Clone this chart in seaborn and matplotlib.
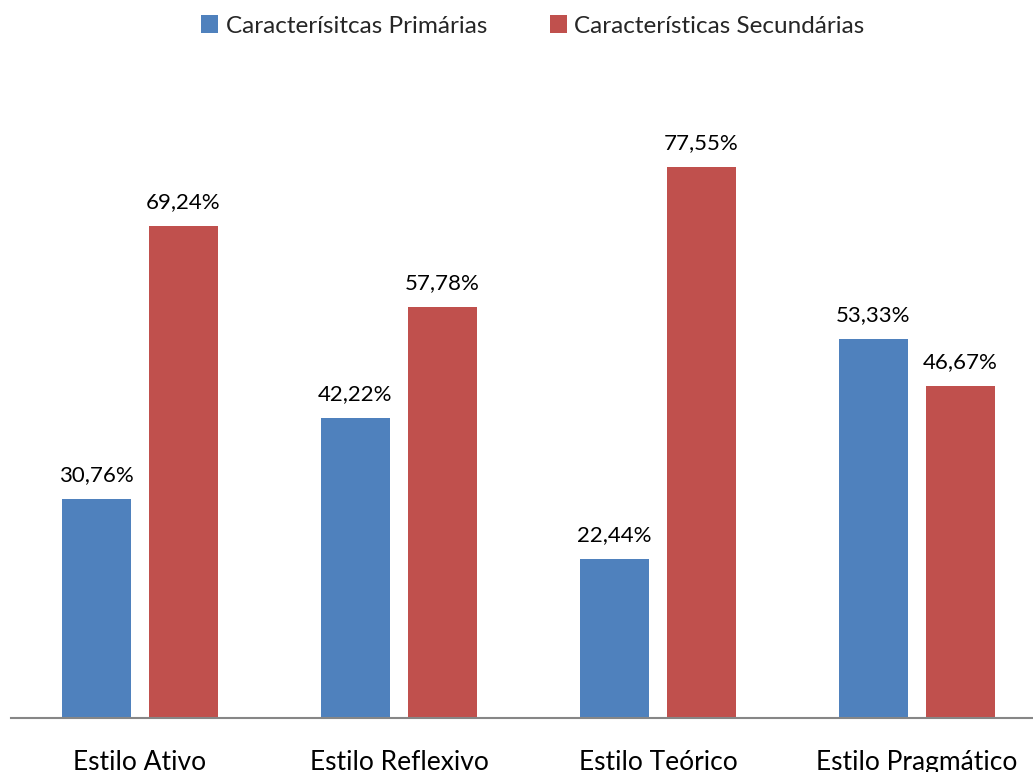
import matplotlib
matplotlib.use("Agg")
import matplotlib.pyplot as plt
import seaborn as sns
import pandas as pd
from matplotlib.patches import Patch

categories = ["Estilo Ativo", "Estilo Reflexivo", "Estilo Teórico", "Estilo Pragmático"]
series_names = ["Caracterísitcas Primárias", "Características Secundárias"]
primarias = [30.76, 42.22, 22.44, 53.33]
secundarias = [69.24, 57.78, 77.55, 46.67]
colors = ["#4F81BD", "#C0504D"]

df = pd.DataFrame({
    "cat": categories * 2,
    "serie": [series_names[0]] * 4 + [series_names[1]] * 4,
    "val": primarias + secundarias,
})

sns.set_theme(style="white")
plt.rcParams["font.family"] = ["Lato", "DejaVu Sans"]

fig = plt.figure(figsize=(10.33, 7.72), dpi=100)
ax = fig.add_axes([10.5 / 1033, 54 / 772, 1036 / 1033, 640.8 / 772])

sns.barplot(data=df, x="cat", y="val", hue="serie", order=categories,
            hue_order=series_names, palette=colors, width=0.672, gap=0.207,
            saturation=1, ax=ax, legend=False, errorbar=None, linewidth=0)

ax.set_xlim(-0.5, 3.5)
ax.set_ylim(0, 90.19)
for cont in ax.containers:
    labels = [f"{v:.2f}".replace(".", ",") + "%" for v in cont.datavalues]
    ax.bar_label(cont, labels=labels, padding=10, fontsize=16, color="#000000")

for s in ["top", "left", "right"]:
    ax.spines[s].set_visible(False)
ax.spines["bottom"].set_color("#868686")
ax.spines["bottom"].set_linewidth(1.5)
ax.set_yticks([])
ax.set_xlabel("")
ax.set_ylabel("")
ax.tick_params(axis="x", length=0, pad=23, labelsize=19, labelcolor="#000000")

handles = [Patch(facecolor=c, edgecolor="none") for c in colors]
fig.legend(handles, series_names, loc="center", bbox_to_anchor=(533 / 1033, 1 - 26 / 772),
           ncol=2, frameon=False, fontsize=17.5, handlelength=0.7, handleheight=0.7,
           handletextpad=0.3, columnspacing=2.6)

fig.savefig("out.png", dpi=100)
